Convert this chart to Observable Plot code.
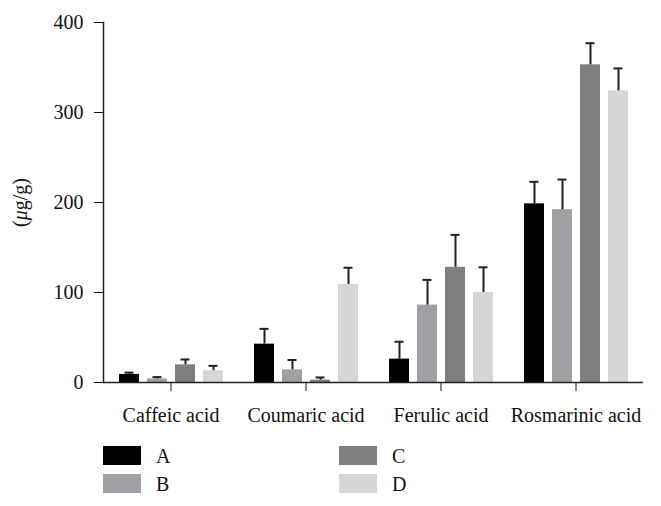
<!DOCTYPE html>
<html>
<head>
<meta charset="utf-8">
<script src="https://cdn.jsdelivr.net/npm/d3@7"></script>
<script src="https://cdn.jsdelivr.net/npm/@observablehq/plot@0.6"></script>
<style>
  html, body { margin: 0; padding: 0; background: #fff; }
  body { width: 661px; height: 506px; overflow: hidden; font-family: "Liberation Serif", serif; }
  #legend { position: relative; height: 74px; font-size: 20px; color: #111; }
  .item { position: absolute; height: 20px; line-height: 20px; }
  .sw { position: absolute; left: 0; top: 0; width: 38px; height: 19px; }
  .lab { position: absolute; left: 53px; top: 0; }
</style>
</head>
<body>
<div id="chart"></div>
<div id="legend"></div>
<script>
const categories = ["Caffeic acid", "Coumaric acid", "Ferulic acid", "Rosmarinic acid"];
const series = ["A", "B", "C", "D"];
const colors = ["#000000", "#a0a0a4", "#7f7f7f", "#d6d6d6"];
const valuesA = [9, 42.6, 26, 198.5];
const errorsA = [2, 17, 19.3, 24.5];
const valuesB = [4, 14, 86, 192];
const errorsB = [2, 11, 28, 33.5];
const valuesC = [19.6, 2.6, 128, 353];
const errorsC = [6, 3, 36, 24];
const valuesD = [13, 109, 100, 324];
const errorsD = [5.5, 18.5, 28, 25];
const yTicks = [0, 100, 200, 300, 400];

const valueSets = [valuesA, valuesB, valuesC, valuesD];
const errorSets = [errorsA, errorsB, errorsC, errorsD];
const data = [];
categories.forEach((c, i) => {
  series.forEach((s, j) => {
    data.push({category: c, series: s, value: valueSets[j][i], err: errorSets[j][i]});
  });
});

const chart = Plot.plot({
  width: 661,
  height: 432,
  marginLeft: 102,
  marginRight: 18,
  marginTop: 22,
  marginBottom: 50,
  style: {fontFamily: "Liberation Serif, serif", fontSize: "20px", color: "#111", background: "#fff"},
  fx: {domain: categories, padding: 0, axis: "bottom", label: null, tickSize: 9, tickPadding: 16},
  x: {domain: series, axis: null, paddingInner: 0.29, paddingOuter: 0.5},
  y: {domain: [0, 400], ticks: yTicks, tickSize: 9, tickPadding: 11, label: "(μg/g)", labelAnchor: "center", labelOffset: 91, labelArrow: "none"},
  color: {domain: series, range: colors},
  marks: [
    Plot.barY(data, {fx: "category", x: "series", y: "value", fill: "series"}),
    Plot.ruleX(data, {fx: "category", x: "series", y1: "value", y2: d => d.value + d.err, stroke: "#222", strokeWidth: 2}),
    Plot.tickY(data, {fx: "category", x: "series", y: d => d.value + d.err, stroke: "#222", strokeWidth: 2, insetLeft: 5.5, insetRight: 5.5}),
    Plot.ruleY([0], {stroke: "#222", strokeWidth: 1.5}),
    Plot.frame({anchor: "left", facetAnchor: "left", stroke: "#222", strokeWidth: 1.5})
  ]
});
document.getElementById("chart").appendChild(chart);

// italic μ in the y label
d3.select(chart).selectAll("text").each(function() {
  if (this.textContent === "(μg/g)") {
    const t = d3.select(this);
    t.text("");
    t.append("tspan").text("(");
    t.append("tspan").attr("font-style", "italic").text("μ");
    t.append("tspan").text("g/g)");
  }
});

// legend
const legend = d3.select("#legend");
const pos = [[103, 14], [103, 42], [339, 14], [339, 42]];
series.forEach((s, i) => {
  const it = legend.append("div").attr("class", "item")
    .style("left", pos[i][0] + "px").style("top", pos[i][1] + "px");
  it.append("div").attr("class", "sw").style("background", colors[i]);
  it.append("div").attr("class", "lab").text(s);
});
</script>
</body>
</html>
